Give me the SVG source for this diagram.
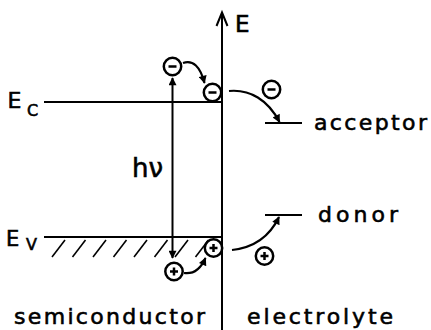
<svg xmlns="http://www.w3.org/2000/svg" width="431" height="330" viewBox="0 0 431 330">
<defs>
<marker id="ah" viewBox="0 0 10 10" refX="9" refY="5" markerWidth="10" markerHeight="8" markerUnits="userSpaceOnUse" orient="auto-start-reverse">
<path d="M0,0 L10,5 L0,10 z" fill="#000"/>
</marker>
</defs>
<style>
.ln{stroke:#000;stroke-width:2;fill:none}
.hatch{stroke:#000;stroke-width:1.6;fill:none}
.ch{stroke:#000;stroke-width:2.5;fill:#fff}
.sg{stroke:#000;stroke-width:2.5;fill:none}
.arr{stroke:#000;stroke-width:2.2;fill:none;marker-end:url(#ah)}
text{font-family:"DejaVu Sans","Liberation Sans",Arial,sans-serif;fill:#000;stroke:#000;stroke-width:0.6}
.lbl{font-size:22px}
</style>
<rect width="431" height="330" fill="#fff"/>

<g id="interface-axis">
<line class="ln" x1="222" y1="13" x2="222" y2="330"/>
<polyline class="ln" points="216.5,26 222,12.5 227.5,26"/>
<text x="235" y="32" font-size="23">E</text>
</g>

<g id="hatch">
<line class="hatch" x1="52" y1="257" x2="65" y2="240"/>
<line class="hatch" x1="72.5" y1="257" x2="85.5" y2="240"/>
<line class="hatch" x1="93" y1="257" x2="106" y2="240"/>
<line class="hatch" x1="113.5" y1="257" x2="126.5" y2="240"/>
<line class="hatch" x1="134" y1="257" x2="147" y2="240"/>
<line class="hatch" x1="154.5" y1="257" x2="167.5" y2="240"/>
<line class="hatch" x1="175" y1="257" x2="188" y2="240"/>
<line class="hatch" x1="195.5" y1="257" x2="208.5" y2="240"/>
</g>

<g id="conduction-band">
<line class="ln" x1="44" y1="102" x2="222" y2="102"/>
<text x="7.5" y="108" font-size="22">E<tspan x="27" y="116" font-size="16">C</tspan></text>
</g>

<g id="valence-band">
<line class="ln" x1="44" y1="237" x2="222" y2="237"/>
<text x="6" y="246" font-size="21">E<tspan x="26" y="250" font-size="16">V</tspan></text>
</g>

<g id="acceptor">
<line class="ln" x1="265" y1="123" x2="302" y2="123"/>
<text class="lbl" x="314" y="130" textLength="113" lengthAdjust="spacing">acceptor</text>
</g>

<g id="donor">
<line class="ln" x1="265" y1="215" x2="302" y2="215"/>
<text class="lbl" x="318" y="222" textLength="80" lengthAdjust="spacing">donor</text>
</g>

<g id="connectors">
<line class="ln" x1="172.5" y1="78" x2="172.5" y2="258" marker-start="url(#ah)" marker-end="url(#ah)"/>
<path class="arr" d="M183,63 Q198,58 204.5,83"/>
<path class="arr" d="M229,91 C250,89 268,100 279.5,122"/>
<path class="arr" d="M184,273 Q198,275 205.5,258"/>
<path class="arr" d="M232,250 C250,248 268,240 279,217"/>
</g>

<g id="photon-label">
<text x="132" y="177" font-size="26" textLength="31" lengthAdjust="spacing">hν</text>
</g>

<g id="electron-excited">
<circle class="ch" cx="172.5" cy="66.5" r="8.7"/>
<line class="sg" x1="168.5" y1="66.5" x2="176.5" y2="66.5"/>
</g>
<g id="electron-surface">
<circle class="ch" cx="212.5" cy="92.5" r="8.7"/>
<line class="sg" x1="208.5" y1="92.5" x2="216.5" y2="92.5"/>
</g>
<g id="electron-electrolyte">
<circle class="ch" cx="271.5" cy="89.5" r="8.7"/>
<line class="sg" x1="267.5" y1="89.5" x2="275.5" y2="89.5"/>
</g>
<g id="hole-bulk">
<circle class="ch" cx="174" cy="271.5" r="8.7"/>
<line class="sg" x1="170" y1="271.5" x2="178" y2="271.5"/>
<line class="sg" x1="174" y1="267.5" x2="174" y2="275.5"/>
</g>
<g id="hole-surface">
<circle class="ch" cx="213.5" cy="248" r="8.7"/>
<line class="sg" x1="209.5" y1="248" x2="217.5" y2="248"/>
<line class="sg" x1="213.5" y1="244" x2="213.5" y2="252"/>
</g>
<g id="hole-electrolyte">
<circle class="ch" cx="264.5" cy="256" r="8.7"/>
<line class="sg" x1="260.5" y1="256" x2="268.5" y2="256"/>
<line class="sg" x1="264.5" y1="252" x2="264.5" y2="260"/>
</g>

<g id="region-labels">
<text class="lbl" x="14" y="324" textLength="191" lengthAdjust="spacing">semiconductor</text>
<text class="lbl" x="247" y="324" textLength="146" lengthAdjust="spacing">electrolyte</text>
</g>
</svg>
